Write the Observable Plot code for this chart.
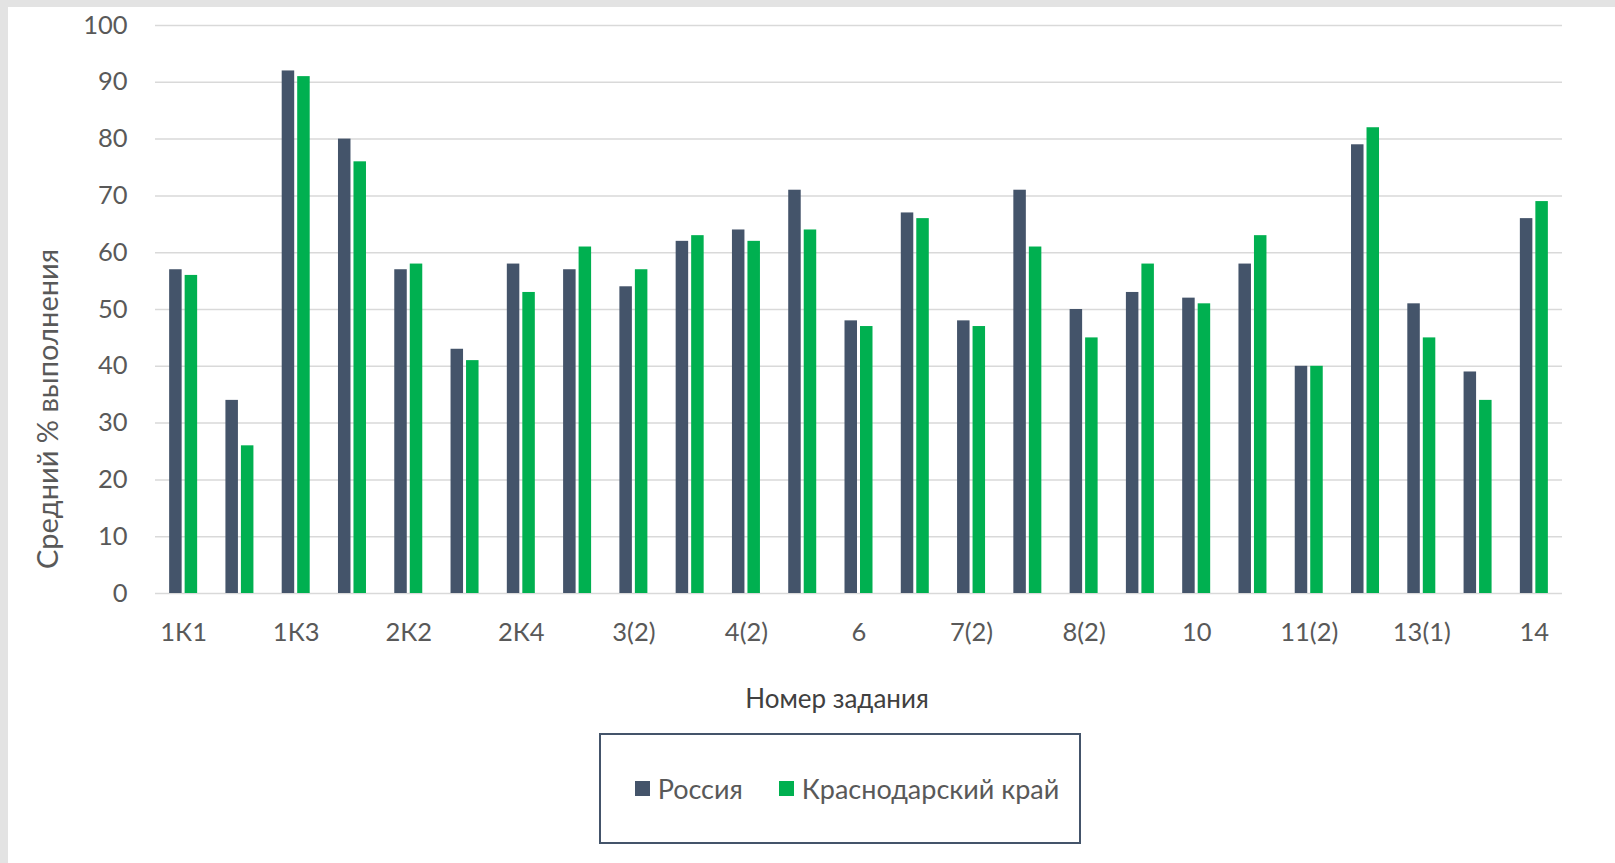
<!DOCTYPE html>
<html>
<head>
<meta charset="utf-8">
<script src="https://cdn.jsdelivr.net/npm/d3@7"></script>
<script src="https://cdn.jsdelivr.net/npm/@observablehq/plot@0.6"></script>
<style>
  html, body { margin: 0; padding: 0; }
  body { width: 1615px; height: 863px; background: #e3e3e3; position: relative; overflow: hidden; font-family: Lato, "Open Sans", sans-serif; }
  #panel { position: absolute; left: 8px; top: 7px; right: 0; bottom: 0; background: #fff; }
  #chart { position: absolute; left: 0; top: 0; }
  #ylabel { position: absolute; left: 46px; top: 409px; transform: translate(-50%, -50%) rotate(-90deg); white-space: nowrap; font-size: 29px; color: #595959; }
  #xlabel { position: absolute; left: 837px; top: 698px; transform: translate(-50%, -50%); white-space: nowrap; font-size: 26px; color: #404040; }
  #legend { position: absolute; left: 599px; top: 733px; width: 464px; padding-left: 14px; height: 107px; border: 2px solid #44546a; box-sizing: content-box; display: flex; align-items: center; justify-content: center; gap: 36px; font-size: 27px; color: #595959; }
  .item { display: flex; align-items: center; gap: 8px; }
  .sw { width: 15px; height: 15px; display: inline-block; }
</style>
</head>
<body>
<div id="panel"></div>
<div id="chart"></div>
<div id="ylabel">Средний % выполнения</div>
<div id="xlabel">Номер задания</div>
<div id="legend"></div>
<script>
const categories = ["1К1","1К2","1К3","2К1","2К2","2К3","2К4","3(1)","3(2)","4(1)","4(2)","5","6","7(1)","7(2)","8(1)","8(2)","9","10","11(1)","11(2)","12","13(1)","13(2)","14"];
const shownLabels = ["1К1","1К3","2К2","2К4","3(2)","4(2)","6","7(2)","8(2)","10","11(2)","13(1)","14"];
const seriesNames = ["Россия", "Краснодарский край"];
const russia =    [57, 34, 92, 80, 57, 43, 58, 57, 54, 62, 64, 71, 48, 67, 48, 71, 50, 53, 52, 58, 40, 79, 51, 39, 66];
const krasnodar = [56, 26, 91, 76, 58, 41, 53, 61, 57, 63, 62, 64, 47, 66, 47, 61, 45, 58, 51, 63, 40, 82, 45, 34, 69];
const yTicks = [0, 10, 20, 30, 40, 50, 60, 70, 80, 90, 100];
const colors = ["#44546a", "#00b050"];

const W = 1615, ML = 155, MR = 53;
const step = (W - ML - MR) / categories.length;
const barW = 12.5, gap = 3;
const outer = step / 2 - gap / 2 - barW;   // inset on outer side
const inner = step / 2 + gap / 2;          // inset on inner side

const rows = categories.map((c, i) => ({task: c, r: russia[i], k: krasnodar[i]}));

const plot = Plot.plot({
  width: W,
  height: 700,
  marginTop: 25,
  marginLeft: ML,
  marginRight: MR,
  marginBottom: 107,
  style: { fontFamily: "Lato, 'Open Sans', sans-serif", fontSize: "25.5px", color: "#595959", background: "transparent" },
  x: { domain: categories, padding: 0, round: false, label: null, tickSize: 0, tickPadding: 29,
       tickFormat: d => shownLabels.includes(d) ? d : "" },
  y: { domain: [0, 100], ticks: yTicks, label: null, tickSize: 0, tickPadding: 28 },
  marks: [
    Plot.ruleY(yTicks, { stroke: "#d9d9d9", strokeWidth: 1.5 }),
    Plot.barY(rows, { x: "task", y: "r", fill: colors[0], insetLeft: outer, insetRight: inner }),
    Plot.barY(rows, { x: "task", y: "k", fill: colors[1], insetLeft: inner, insetRight: outer })
  ]
});
document.getElementById("chart").appendChild(plot);

const legend = document.getElementById("legend");
seriesNames.forEach((s, i) => {
  const it = document.createElement("div");
  it.className = "item";
  it.innerHTML = `<span class="sw" style="background:${colors[i]}"></span><span>${s}</span>`;
  legend.appendChild(it);
});
</script>
</body>
</html>
